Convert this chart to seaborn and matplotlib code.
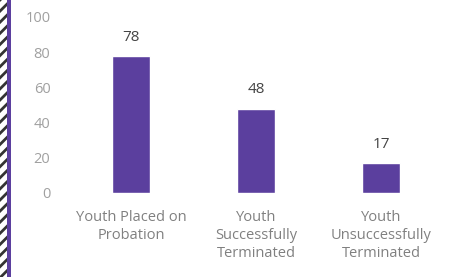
import matplotlib
matplotlib.use("Agg")
import matplotlib.pyplot as plt
import seaborn as sns
import pandas as pd
from matplotlib.patches import Rectangle

categories = ["Youth Placed on\nProbation", "Youth\nSuccessfully\nTerminated", "Youth\nUnsuccessfully\nTerminated"]
values = [78, 48, 17]
yticks = [0, 20, 40, 60, 80, 100]

sns.set_theme(style="white")
plt.rcParams['font.family'] = ['Open Sans', 'DejaVu Sans']
plt.rcParams['hatch.linewidth'] = 2.0

df = pd.DataFrame({"cat": categories, "val": values})

fig = plt.figure(figsize=(4.52, 2.77), dpi=100)
ax = fig.add_axes([68.5/452, 84/277, 375/452, 176/277])
sns.barplot(data=df, x="cat", y="val", color="#5b3f9e", width=0.3, ax=ax, saturation=1)
ax.set_xlim(-0.5, 2.5)
ax.set_ylim(0, 100)
ax.set_yticks(yticks)
ax.set_xlabel("")
ax.set_ylabel("")
for s in ax.spines.values():
    s.set_visible(False)
ax.tick_params(axis='y', length=0, pad=13, labelsize=10.5, labelcolor="#a0a0a0")
ax.tick_params(axis='x', length=0, pad=12, labelsize=10.5, labelcolor="#808080")
for lbl in ax.get_xticklabels():
    lbl.set_linespacing(1.3)
ax.bar_label(ax.containers[0], padding=8, fontsize=11, color="#444444")

# decorative left border
fig.patches.append(Rectangle((0, 0), 7/452, 1, transform=fig.transFigure,
                             facecolor="white", edgecolor="#333333", hatch="///", linewidth=0))
fig.patches.append(Rectangle((7/452, 0), 4/452, 1, transform=fig.transFigure,
                             facecolor="#5b3f9e", edgecolor="none"))

fig.savefig("out.png", dpi=100)
